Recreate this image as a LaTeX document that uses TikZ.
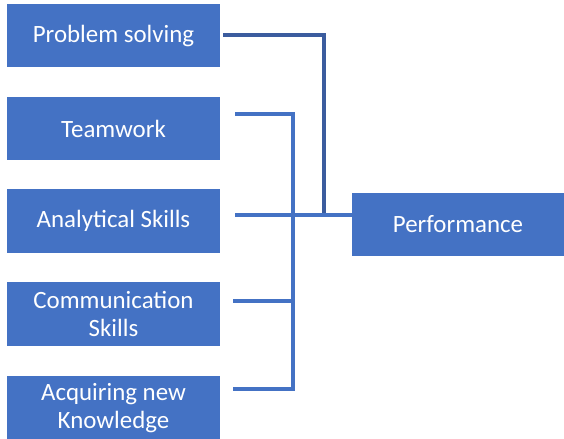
\documentclass[tikz,border=0pt]{standalone}
\usepackage{xcolor}
\usepackage{fontspec}
\setmainfont{Carlito}
\usepackage{tikz}

\definecolor{boxblue}{HTML}{4472C4}
\definecolor{lineblue}{HTML}{4472C4}
\definecolor{darkline}{HTML}{3B5C9E}

\begin{document}
\begin{tikzpicture}[x=0.025cm, y=-0.025cm]
        % Define styles
        \tikzset{
            skill/.style={rectangle, fill=boxblue, text=white, align=center, inner sep=0pt,
                minimum width=5.33cm, minimum height=1.58cm, font=\fontsize{17.7}{19.4}\selectfont},
            result/.style={skill, minimum width=5.3cm},
            link/.style={draw=lineblue, line width=3.2pt},
            thinlink/.style={draw=darkline, line width=2.2pt}
        }
        \useasboundingbox (0,0) rectangle (564,439);

        % Nodes
        \node[skill] (skill_node_1) at (113.5,35.5) {Problem solving};
        \node[skill] (skill_node_2) at (113.5,128.5) {Teamwork};
        \node[skill] (skill_node_3) at (113.5,221) {Analytical Skills};
        \node[skill] (skill_node_4) at (113.5,314) {Communication\\Skills};
        \node[skill] (skill_node_5) at (113.5,408) {Acquiring new\\Knowledge};
        \node[result] (perf_node) at (458,224.5) {Performance};

        % Line ends
        \coordinate (out_1) at (223,35);
        \coordinate (out_2) at (235,114);
        \coordinate (out_3) at (235,215);
        \coordinate (out_4) at (233,301);
        \coordinate (out_5) at (233,389);
        \coordinate (bus_1) at (324,215);
        \coordinate (bus_2) at (293,389);

        % Lines
        \draw[thinlink] (out_1) -| (bus_1);
        \draw[link] (out_2) -| (bus_2) -- (out_5);
        \draw[link] (out_4) -- (out_4 -| bus_2);
        \draw[link] (out_3) -- (out_3 -| perf_node.west);
    \end{tikzpicture}
\end{document}
